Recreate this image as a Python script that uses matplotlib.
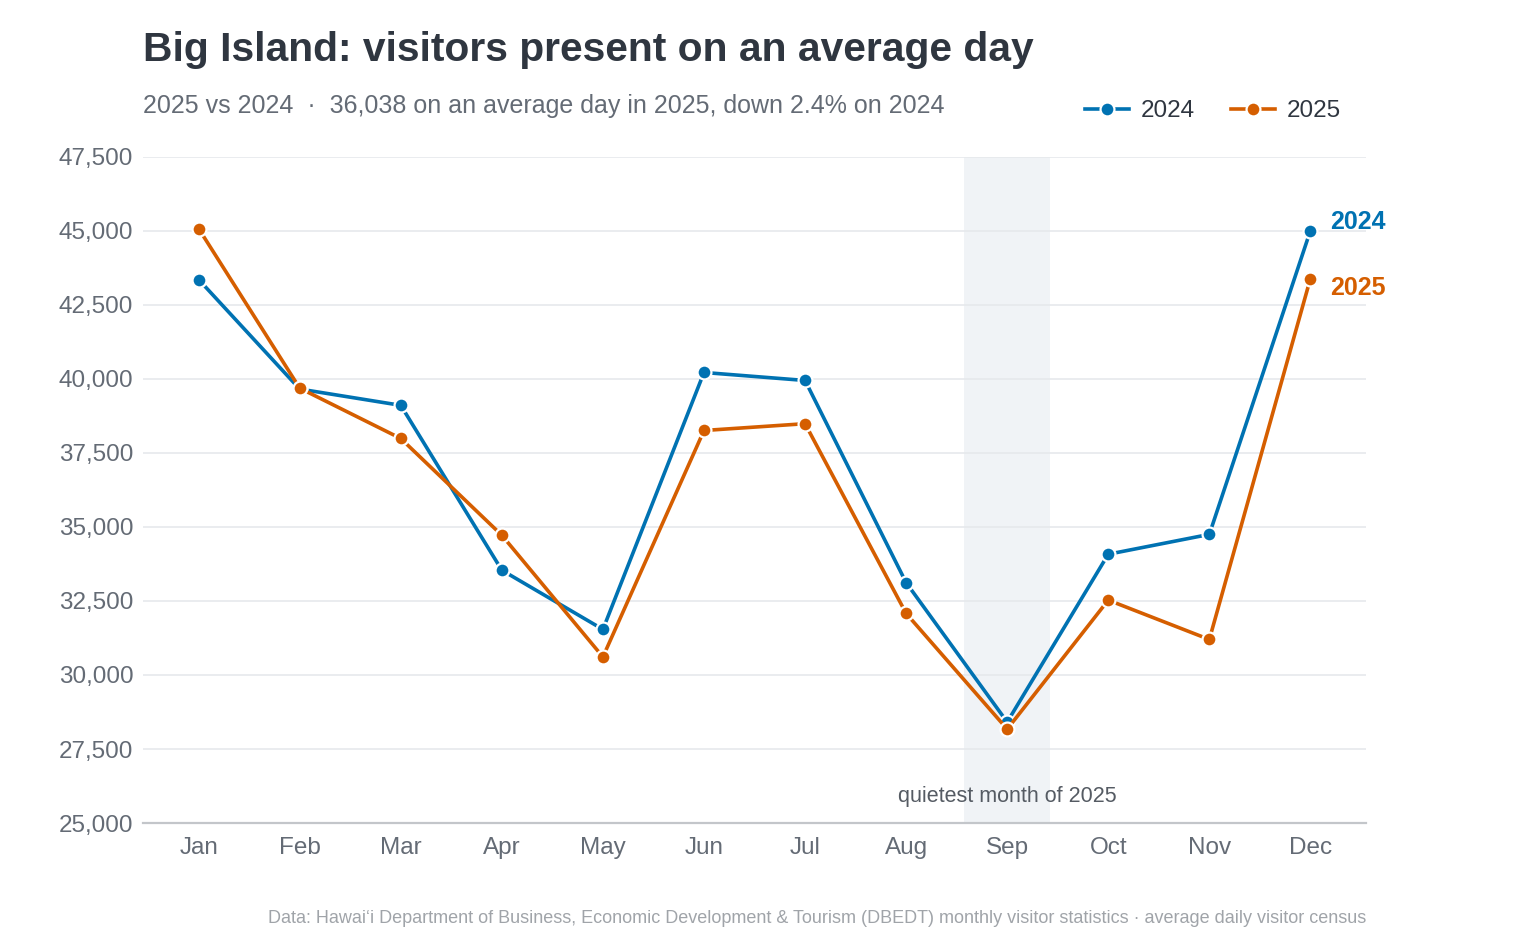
import matplotlib.pyplot as plt

plt.rcParams['font.family'] = ['Liberation Sans', 'DejaVu Sans']

# Average daily visitor census, Big Island, by month
months = ['Jan', 'Feb', 'Mar', 'Apr', 'May', 'Jun', 'Jul', 'Aug', 'Sep', 'Oct', 'Nov', 'Dec']
visitors_2024 = [43360, 39660, 39110, 33540, 31540, 40220, 39950, 33120, 28410, 34080, 34750, 45010]
visitors_2025 = [45080, 39690, 37990, 34720, 30610, 38260, 38490, 32080, 28170, 32530, 31200, 43390]
quietest_month = 'Sep'

blue = '#0072B2'
orange = '#D55E00'
text_dark = '#2f3640'
text_gray = '#646b75'

fig = plt.figure(figsize=(15.3, 9.52), dpi=100)
ax = fig.add_axes([0.0935, 0.1355, 0.7993, 0.6996])

x = list(range(len(months)))
q = months.index(quietest_month)
ax.axvspan(q - 0.425, q + 0.425, color='#f0f3f6', zorder=0, lw=0)

ax.plot(x, visitors_2024, color=blue, lw=2.6, marker='o', markersize=10,
        markeredgecolor='white', markeredgewidth=1.6, label='2024', zorder=3)
ax.plot(x, visitors_2025, color=orange, lw=2.6, marker='o', markersize=10,
        markeredgecolor='white', markeredgewidth=1.6, label='2025', zorder=4)

# end labels
ax.annotate('2024', (x[-1], visitors_2024[-1]), xytext=(14, 6), textcoords='offset points',
            color=blue, fontsize=18, fontweight='bold', va='center', ha='left')
ax.annotate('2025', (x[-1], visitors_2025[-1]), xytext=(14, -7), textcoords='offset points',
            color=orange, fontsize=18, fontweight='bold', va='center', ha='left')

ax.text(q, 25900, 'quietest month of 2025', ha='center', va='center',
        fontsize=15.5, color='#555b63')

ax.set_xlim(-0.55, 11.55)
ax.set_ylim(25000, 47500)
ax.set_xticks(x)
ax.set_xticklabels(months)
ax.set_yticks(range(25000, 47501, 2500))
ax.set_yticklabels([f'{v:,}' for v in range(25000, 47501, 2500)])
ax.tick_params(axis='both', length=0, labelsize=17.5, colors=text_gray)
ax.tick_params(axis='x', pad=10)
ax.tick_params(axis='y', pad=7)
ax.grid(axis='y', color='#e6e9ec', lw=1.2)
ax.set_axisbelow(True)
for s in ['top', 'right', 'left']:
    ax.spines[s].set_visible(False)
ax.spines['bottom'].set_color('#c3c6ca')
ax.spines['bottom'].set_linewidth(1.6)

fig.text(0.0935, 0.947, 'Big Island: visitors present on an average day',
         fontsize=29.3, fontweight='bold', color=text_dark, va='center')
fig.text(0.0935, 0.889, '2025 vs 2024  \u00b7  36,038 on an average day in 2025, down 2.4% on 2024',
         fontsize=18, color=text_gray, va='center')

leg = fig.legend(loc='center right', bbox_to_anchor=(0.891, 0.883), ncol=2, frameon=False,
                 fontsize=17.5, handlelength=1.8, columnspacing=1.5, handletextpad=0.5)
for t in leg.get_texts():
    t.set_color(text_dark)

fig.text(0.8928, 0.035, 'Data: Hawai\u02bbi Department of Business, Economic Development & Tourism (DBEDT) '
         'monthly visitor statistics \u00b7 average daily visitor census',
         ha='right', va='center', fontsize=13, color='#a0a4a9')

fig.savefig('out.png', dpi=100, facecolor='white')
